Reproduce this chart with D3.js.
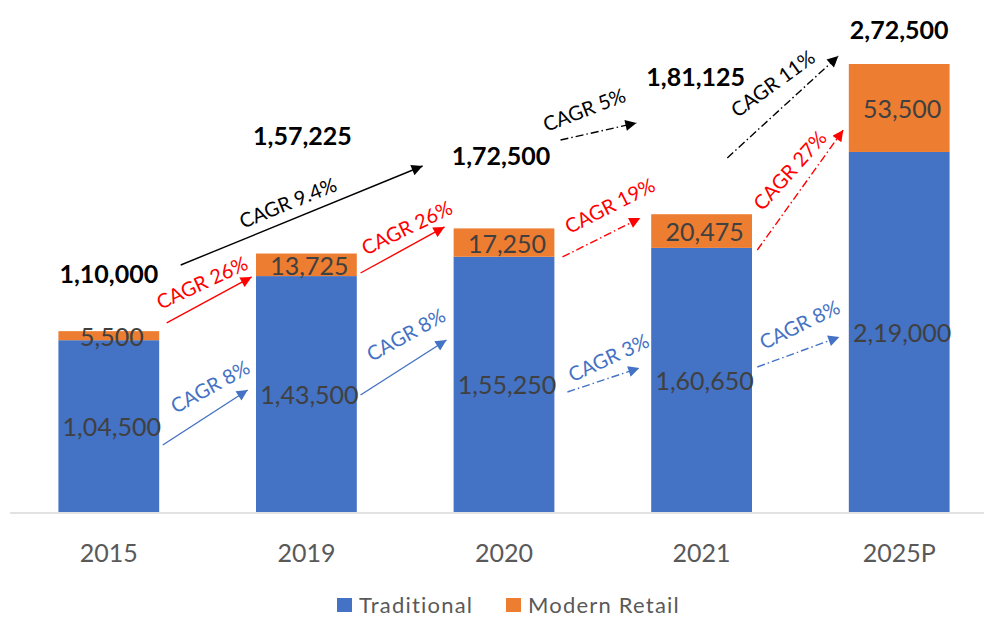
<!DOCTYPE html>
<html>
<head>
<meta charset="utf-8">
<script src="https://cdn.jsdelivr.net/npm/d3@7"></script>
<style>
  body { margin: 0; background: #fff; }
  text { font-family: Lato, "Open Sans", sans-serif; }
</style>
</head>
<body>
<script>
var categories = ["2015", "2019", "2020", "2021", "2025P"];
var traditional = [104500, 143500, 155250, 160650, 219000];
var modern = [5500, 13725, 17250, 20475, 53500];
var seriesNames = ["Traditional", "Modern Retail"];

// CAGR annotations: index units on x, values on y
var annotations = [
  {text: "CAGR 9.4%", s: "total", dash: false, from: [0.364, 150250], to: [1.588, 210470], at: [0.905, 188560], rot: -22},
  {text: "CAGR 5%",   s: "total", dash: true,  from: [2.286, 226290], to: [2.670, 236630], at: [2.405, 245150], rot: -21},
  {text: "CAGR 11%",  s: "total", dash: true,  from: [3.130, 215340], to: [3.692, 277380], at: [3.358, 260960], rot: -36},
  {text: "CAGR 26%",  s: "modern", dash: false, from: [0.293, 114970], to: [0.723, 142950], at: [0.470, 139910], rot: -25},
  {text: "CAGR 26%",  s: "modern", dash: false, from: [1.274, 145380], to: [1.699, 173370], at: [1.507, 173370], rot: -26},
  {text: "CAGR 19%",  s: "modern", dash: true,  from: [2.296, 155110], to: [2.690, 178840], at: [2.534, 186750], rot: -27},
  {text: "CAGR 27%",  s: "modern", dash: true,  from: [3.282, 159370], to: [3.717, 232370], at: [3.444, 208040], rot: -48},
  {text: "CAGR 8%",   s: "trad", dash: false, from: [0.273, 40760], to: [0.703, 74210], at: [0.511, 76650], rot: -29},
  {text: "CAGR 8%",   s: "trad", dash: false, from: [1.274, 71170], to: [1.709, 104630], at: [1.502, 108280], rot: -29},
  {text: "CAGR 3%",   s: "trad", dash: true,  from: [2.321, 73000], to: [2.685, 87600], at: [2.528, 94290], rot: -25},
  {text: "CAGR 8%",   s: "trad", dash: true,  from: [3.282, 88200], to: [3.697, 106450], at: [3.494, 114360], rot: -26}
];

// where the bold totals sit (index units, value)
var totalPos = [[0, 145380], [0.98, 229330], [1.985, 217160], [2.97, 265220], [4, 293810]];

var colors = {trad: "#4472C4", modern: "#ED7D31", total: "#000000"};
var annColors = {trad: "#4472C4", modern: "#FF0000", total: "#000000"};

function indian(n) {
  var s = String(n);
  if (s.length <= 3) return s;
  var last = s.slice(-3), rest = s.slice(0, -3);
  rest = rest.replace(/\B(?=(\d{2})+(?!\d))/g, ",");
  return rest + "," + last;
}

var width = 984, height = 619;
var svg = d3.select("body").append("svg")
    .attr("width", width)
    .attr("height", height);

var x = d3.scaleBand()
    .domain(categories)
    .range([10, 998])
    .paddingInner(0.49)
    .paddingOuter(0.245);

var y = d3.scaleLinear()
    .domain([0, 300000])
    .range([512, 512 - 300000 * 0.001644]);

var xi = d3.scaleLinear()
    .domain([0, categories.length - 1])
    .range([x(categories[0]) + x.bandwidth() / 2, x(categories[categories.length - 1]) + x.bandwidth() / 2]);

var rows = categories.map(function (c, i) {
  return {cat: c, trad: traditional[i], modern: modern[i], total: traditional[i] + modern[i]};
});

// bars
svg.selectAll(".trad").data(rows).enter().append("rect")
    .attr("x", d => x(d.cat))
    .attr("width", x.bandwidth())
    .attr("y", d => y(d.trad))
    .attr("height", d => y(0) - y(d.trad))
    .attr("fill", colors.trad);

svg.selectAll(".modern").data(rows).enter().append("rect")
    .attr("x", d => x(d.cat))
    .attr("width", x.bandwidth())
    .attr("y", d => y(d.total))
    .attr("height", d => y(d.trad) - y(d.total))
    .attr("fill", colors.modern);

// axis line
svg.append("line")
    .attr("x1", 10).attr("x2", width)
    .attr("y1", y(0) + 1).attr("y2", y(0) + 1)
    .attr("stroke", "#D9D9D9").attr("stroke-width", 1.5);

svg.selectAll(".cat").data(categories).enter().append("text")
    .attr("x", d => x(d) + x.bandwidth() / 2)
    .attr("y", 552)
    .attr("text-anchor", "middle")
    .attr("dominant-baseline", "central")
    .attr("font-size", 25)
    .attr("fill", "#595959")
    .text(d => d);

// value labels
svg.selectAll(".tl").data(rows).enter().append("text")
    .attr("x", d => x(d.cat) + x.bandwidth() / 2 + 3)
    .attr("y", d => y(d.trad / 2))
    .attr("text-anchor", "middle")
    .attr("dominant-baseline", "central")
    .attr("font-size", 25)
    .attr("fill", "#404040")
    .text(d => indian(d.trad));

svg.selectAll(".ml").data(rows).enter().append("text")
    .attr("x", d => x(d.cat) + x.bandwidth() / 2 + 3)
    .attr("y", d => y(d.trad + d.modern / 2))
    .attr("text-anchor", "middle")
    .attr("dominant-baseline", "central")
    .attr("font-size", 25)
    .attr("fill", "#404040")
    .text(d => indian(d.modern));

svg.selectAll(".tot").data(rows).enter().append("text")
    .attr("x", (d, i) => xi(totalPos[i][0]))
    .attr("y", (d, i) => y(totalPos[i][1]))
    .attr("text-anchor", "middle")
    .attr("dominant-baseline", "central")
    .attr("font-size", 25)
    .attr("font-weight", "bold")
    .attr("fill", "#000")
    .text(d => indian(d.total));

// arrow markers
var defs = svg.append("defs");
Object.keys(annColors).forEach(function (k) {
  defs.append("marker")
      .attr("id", "arr-" + k)
      .attr("viewBox", "0 0 10 10")
      .attr("refX", 10).attr("refY", 5)
      .attr("markerWidth", 13).attr("markerHeight", 11)
      .attr("markerUnits", "userSpaceOnUse")
      .attr("orient", "auto")
      .append("path")
      .attr("d", "M0,0L10,5L0,10Z")
      .attr("fill", annColors[k]);
});

var ann = svg.selectAll(".ann").data(annotations).enter().append("g");

ann.append("line")
    .attr("x1", d => xi(d.from[0]))
    .attr("y1", d => y(d.from[1]))
    .attr("x2", d => xi(d.to[0]))
    .attr("y2", d => y(d.to[1]))
    .attr("stroke", d => annColors[d.s])
    .attr("stroke-width", 1.4)
    .attr("stroke-dasharray", d => d.dash ? "8,3,1.5,3" : null)
    .attr("marker-end", d => "url(#arr-" + d.s + ")");

ann.append("text")
    .attr("transform", d => "translate(" + xi(d.at[0]) + "," + y(d.at[1]) + ") rotate(" + d.rot + ")")
    .attr("text-anchor", "middle")
    .attr("dominant-baseline", "central")
    .attr("font-size", 20)
    .attr("fill", d => annColors[d.s])
    .text(d => d.text);

// legend
var legend = svg.append("g");
var legX = [337, 506];
seriesNames.forEach(function (n, i) {
  var g = legend.append("g").attr("transform", "translate(" + legX[i] + ",598)");
  g.append("rect").attr("width", 15).attr("height", 14)
      .attr("fill", i === 0 ? colors.trad : colors.modern);
  g.append("text")
      .attr("x", 22).attr("y", 15)
      .attr("font-size", 22)
      .attr("letter-spacing", 1.2)
      .attr("fill", "#595959")
      .text(n);
});
</script>
</body>
</html>
